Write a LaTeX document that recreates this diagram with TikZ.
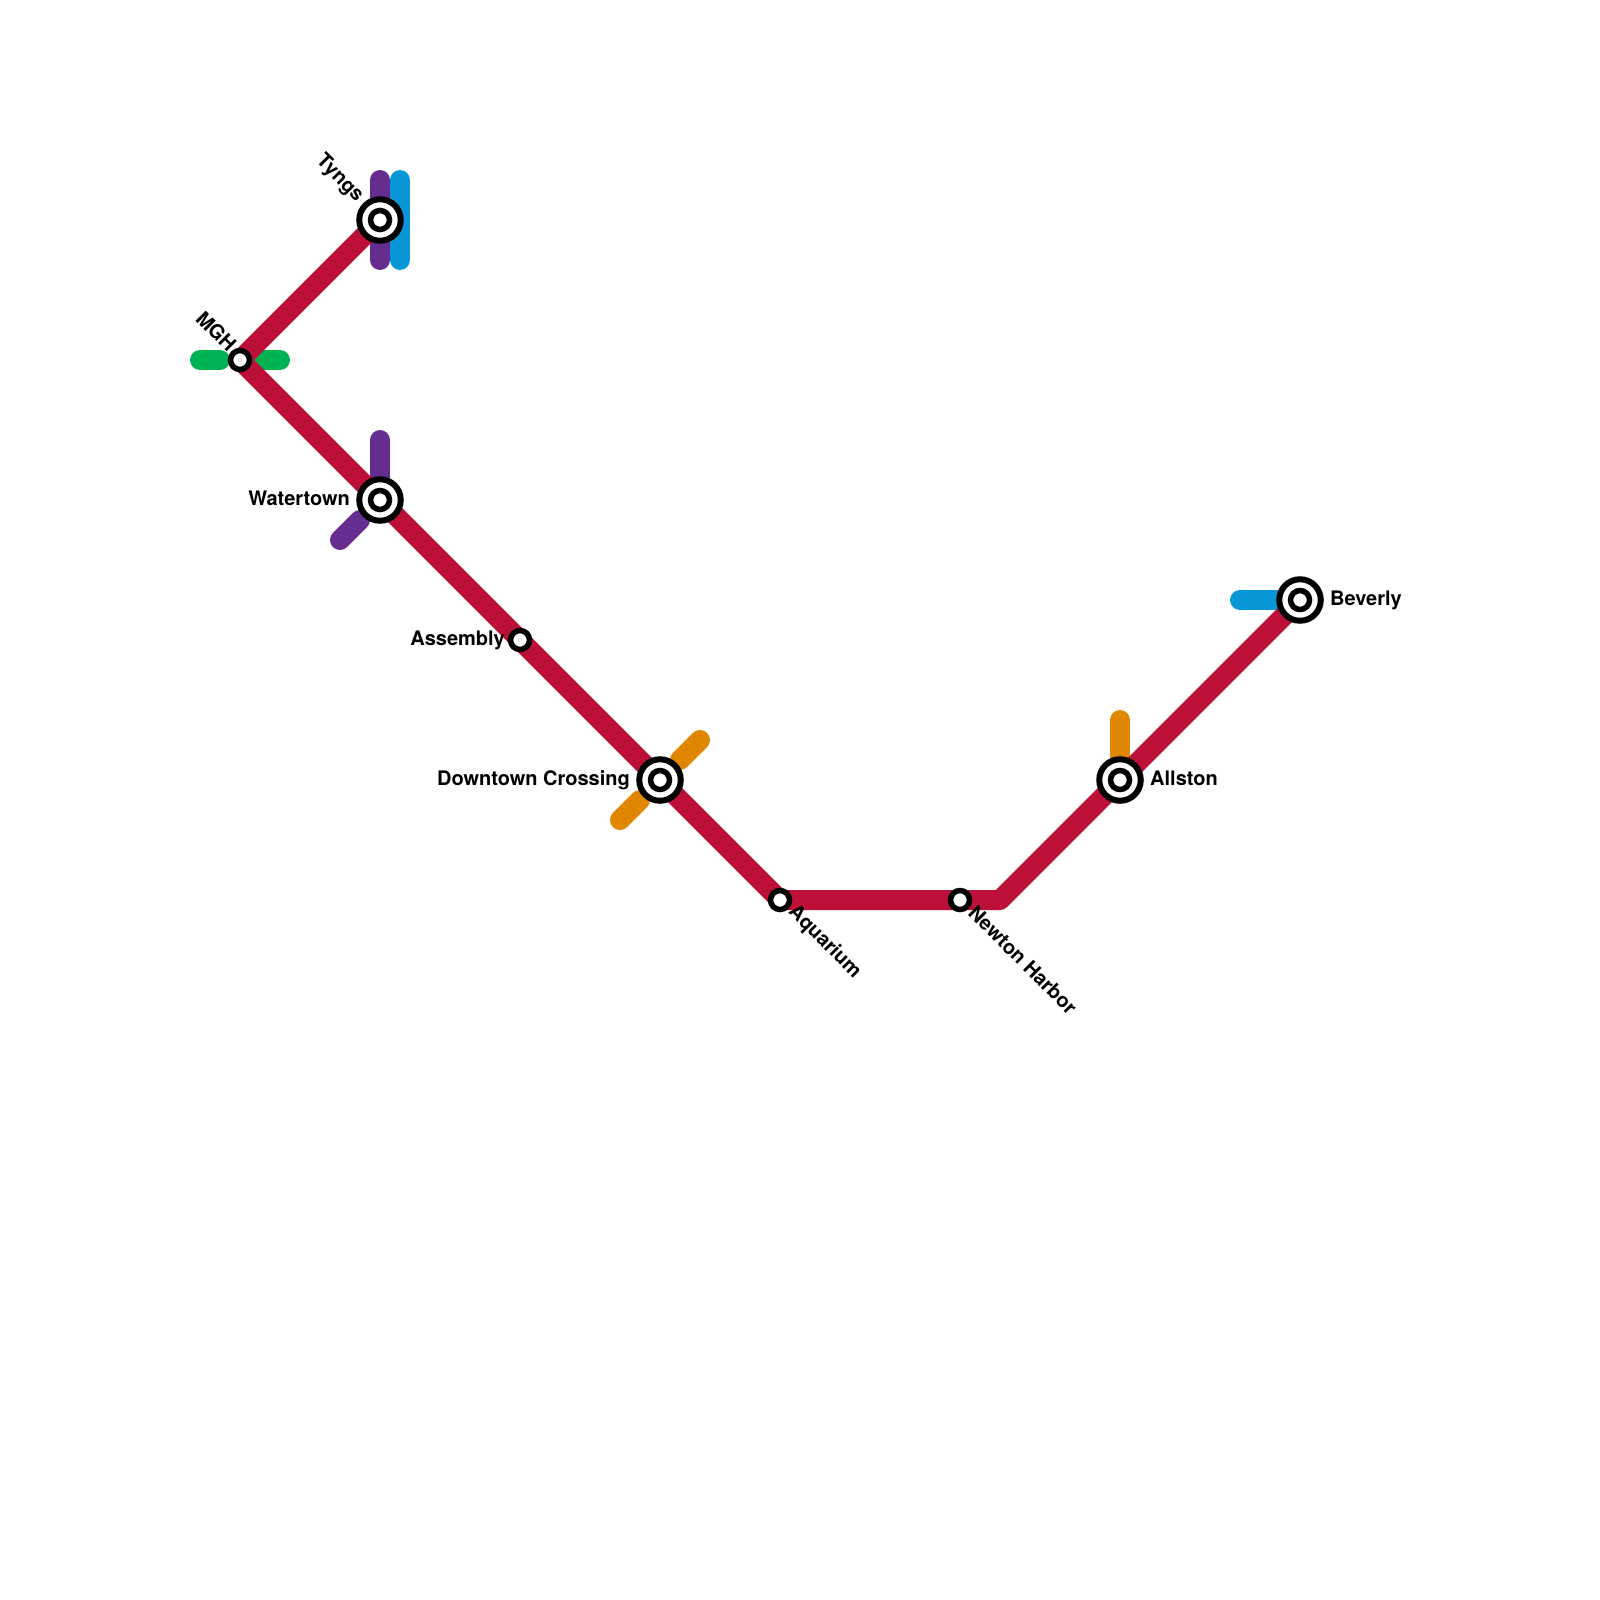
\documentclass[tikz,border=0pt]{standalone}
\usepackage{fontspec}
\setmainfont{TeX Gyre Heros}
\definecolor{lineRed}{HTML}{BD1038}
\definecolor{linePurple}{HTML}{662D91}
\definecolor{lineBlue}{HTML}{0896D7}
\definecolor{lineGreen}{HTML}{00B251}
\definecolor{lineOrange}{HTML}{E08600}

\begin{document}
\begin{tikzpicture}[
    x=1pt, y=-1pt,
    every node/.style={font=\fontsize{20}{22}\selectfont\bfseries, color=black},
    route/.style={line width=20pt, line cap=round, line join=round},
    hubring/.style={draw=black, fill=white, line width=6pt},
    coredot/.style={draw=black, fill=white, line width=5.5pt},
    tag/.style={inner sep=0pt, text depth=0pt},
]
\useasboundingbox (0,0) rectangle (1600,1600);

% ----------------------------------------------------------------------
% Station positions, free line ends and the one bend
% ----------------------------------------------------------------------
\foreach \nm/\px/\py in {
    tyngs/380/220, watertown/380/500, downtown/660/780, allston/1120/780,
    beverly/1300/600, mgh/240/360, assembly/520/640, aquarium/780/900,
    newton/960/900, bend/1000/900,
    tyngsPurpleA/380/180, tyngsPurpleB/380/260,
    tyngsBlueA/400/180, tyngsBlueB/400/260,
    mghGreenA/200/360, mghGreenB/220/360, mghGreenC/260/360, mghGreenD/280/360,
    waterPurpleA/380/440, waterPurpleB/340/540, waterPurpleC/360/520,
    downOrangeA/700/740, downOrangeB/680/760, downOrangeC/640/800, downOrangeD/620/820,
    allstonOrange/1120/720, beverlyBlue/1240/600
} {
    \coordinate (\nm) at (\px,\py);
}

% ----------------------------------------------------------------------
% Lines
% ----------------------------------------------------------------------
\draw[route, linePurple] (tyngsPurpleA) -- (tyngsPurpleB);
\draw[route, lineBlue] (tyngsBlueA) -- (tyngsBlueB);
\draw[route, lineGreen] (mghGreenA) -- (mghGreenB);
\draw[route, lineGreen] (mghGreenC) -- (mghGreenD);
\draw[route, linePurple] (waterPurpleA) -- (watertown);
\draw[route, linePurple] (waterPurpleB) -- (waterPurpleC);
\draw[route, lineOrange] (downOrangeA) -- (downOrangeB);
\draw[route, lineOrange] (downOrangeC) -- (downOrangeD);
\draw[route, lineOrange] (allstonOrange) -- (allston);
\draw[route, lineBlue] (beverlyBlue) -- (beverly);
\draw[route, lineRed]
    (tyngs) -- (mgh) -- (watertown) -- (assembly) -- (downtown)
    -- (aquarium) -- (newton) -- (bend) -- (allston) -- (beverly);

% ----------------------------------------------------------------------
% Stations
% ----------------------------------------------------------------------
\foreach \p in {tyngs,watertown,downtown,allston,beverly} {
    \path[hubring] (\p) circle (20.75pt);
    \path[coredot] (\p) circle (9.5pt);
}
\foreach \p in {mgh,assembly,aquarium,newton}
    \path[coredot] (\p) circle (9.5pt);

% ----------------------------------------------------------------------
% Labels
% ----------------------------------------------------------------------
\node[tag, anchor=east, rotate=-45] (tyngsLabel) at (361.5,197.5) {Tyngs};
\node[tag, anchor=east, rotate=-45] (mghLabel) at (233,348) {MGH};
\node[tag, anchor=east] (watertownLabel) at (350,498) {Watertown};
\node[tag, anchor=east] (assemblyLabel) at (505,638) {Assembly};
\node[tag, anchor=east] (downtownLabel) at (630,778) {Downtown Crossing};
\node[tag, anchor=west, rotate=-45] (aquariumLabel) at (793,907.5) {Aquarium};
\node[tag, anchor=west, rotate=-45] (newtonLabel) at (972,909) {Newton Harbor};
\node[tag, anchor=west] (allstonLabel) at (1150,778) {Allston};
\node[tag, anchor=west] (beverlyLabel) at (1330,598) {Beverly};

\end{tikzpicture}
\end{document}
